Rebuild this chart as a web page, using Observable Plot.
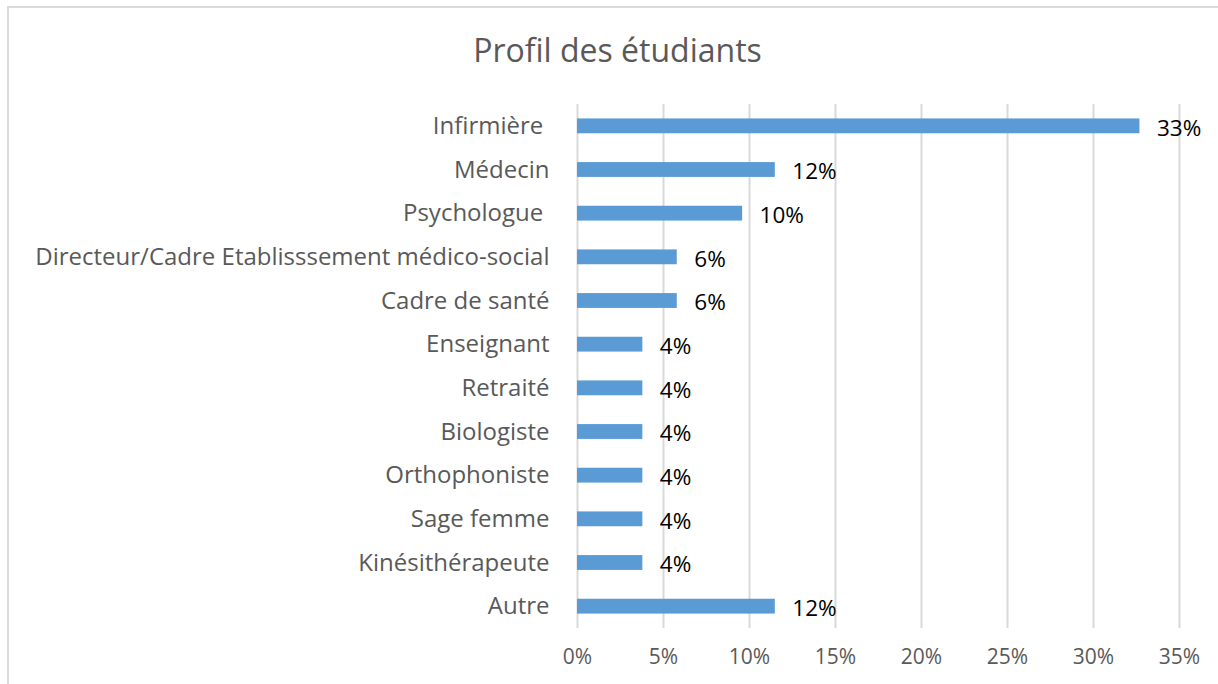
<!DOCTYPE html>
<html>
<head>
<meta charset="utf-8">
<script src="https://cdn.jsdelivr.net/npm/d3@7"></script>
<script src="https://cdn.jsdelivr.net/npm/@observablehq/plot@0.6"></script>
<style>
  html, body { margin: 0; padding: 0; background: #fff; overflow: hidden; }
  #wrap { position: relative; width: 1218px; height: 684px; overflow: hidden; }
  #frame { position: absolute; left: 7px; top: 6px; width: 1400px; height: 900px;
           border-top: 2px solid #d9d9d9; border-left: 2px solid #d9d9d9; box-sizing: border-box; }
  #title { position: absolute; left: 0; top: 0; width: 1235px; height: 90px;
           font-family: "Open Sans", sans-serif; font-size: 32px; color: #595959;
           text-align: center; line-height: 1; padding-top: 34px; box-sizing: border-box; }
  #chart { position: absolute; left: 0; top: 90px; }
</style>
</head>
<body>
<div id="wrap">
  <div id="frame"></div>
  <div id="title">Profil des étudiants</div>
  <div id="chart"></div>
</div>
<script>
const categories = [
  "Infirmière\u00a0",
  "Médecin",
  "Psychologue\u00a0",
  "Directeur/Cadre Etablisssement médico-social",
  "Cadre de santé",
  "Enseignant",
  "Retraité",
  "Biologiste",
  "Orthophoniste",
  "Sage femme",
  "Kinésithérapeute",
  "Autre"
];
const values = [32.7, 11.5, 9.6, 5.8, 5.8, 3.8, 3.8, 3.8, 3.8, 3.8, 3.8, 11.5];
const valueLabels = ["33%", "12%", "10%", "6%", "6%", "4%", "4%", "4%", "4%", "4%", "4%", "12%"];
const xTicks = [0, 5, 10, 15, 20, 25, 30, 35];

const data = categories.map((c, i) => ({cat: c, value: values[i], label: valueLabels[i]}));

const chart = Plot.plot({
  width: 1218,
  height: 594,
  marginLeft: 577,
  marginRight: 39,
  marginTop: 14,
  marginBottom: 56,
  style: {fontFamily: "'Open Sans', sans-serif", background: "transparent", overflow: "visible"},
  x: {domain: [0, 35]},
  y: {domain: categories, paddingInner: 0.66, paddingOuter: 0.33, round: false},
  marks: [
    Plot.gridX(xTicks, {stroke: "#d9d9d9", strokeOpacity: 1, strokeWidth: 2}),
    Plot.barX(data, {x: "value", y: "cat", fill: "#5b9bd5"}),
    Plot.text(data, {x: "value", y: "cat", text: "label", textAnchor: "start", dx: 17, dy: 2, fill: "#000", fontSize: 22.5}),
    Plot.axisX({ticks: xTicks, tickFormat: d => d + "%", tickSize: 0, tickPadding: 21, fontSize: 21, color: "#595959", label: null}),
    Plot.axisY({tickSize: 0, tickPadding: 28, fontSize: 24, color: "#595959", label: null})
  ]
});
document.getElementById("chart").appendChild(chart);
</script>
</body>
</html>
